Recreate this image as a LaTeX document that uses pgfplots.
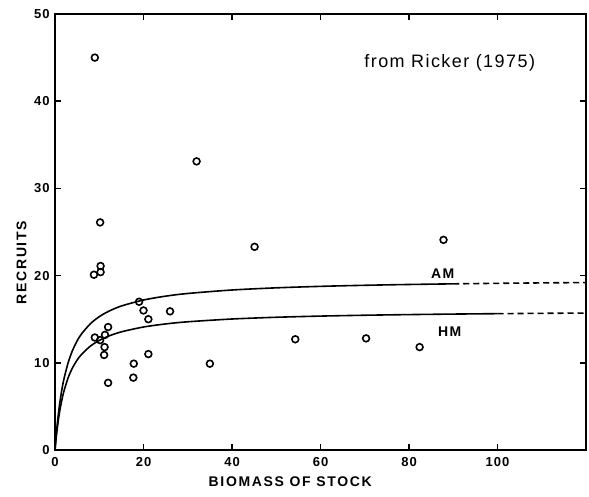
\documentclass[border=0pt]{standalone}
\usepackage{fontspec}
\setmainfont{Liberation Sans}
\usepackage{pgfplots}
\pgfplotsset{compat=1.18}
\begin{document}
\begin{tikzpicture}
\begin{axis}[
  name=ax,
  line width=2.2pt,
  scale only axis,
  width=531pt, height=436pt,
  xmin=0, xmax=120, ymin=0, ymax=50,
  xtick={0,20,40,60,80,100},
  ytick={0,10,20,30,40,50},
  tick align=inside,
  major tick length=6pt,
  major tick style={line width=1.6pt, black},
  /pgf/number format/assume math mode=true,
  ticklabel style={font=\fontsize{13}{15}\selectfont\bfseries\addfontfeature{LetterSpace=8}},
  xticklabel style={yshift=-3pt},
  yticklabel style={xshift=-1pt},
  xlabel={BIOMASS OF STOCK},
  ylabel={RECRUITS},
  label style={font=\fontsize{14}{16}\selectfont\bfseries\addfontfeature{LetterSpace=12}},
  xlabel style={at={(axis description cs:0.443,0)}, anchor=north, yshift=-22pt},
  ylabel style={at={(axis description cs:0,0.43)}, anchor=south, yshift=24pt},
  clip=false,
]
\addplot[only marks, mark=o, mark size=3.4pt, mark options={line width=1.6pt}] coordinates {
  (9,45) (32,33.1) (10.2,26.1) (45.1,23.3) (87.8,24.1)
  (8.8,20.1) (10.3,20.4) (10.3,21.1)
  (19,17) (20,16) (21.1,15) (26,15.9)
  (9,12.9) (10.2,12.6) (11.3,13.2) (12,14.1) (11.2,11.8) (11.1,10.9) (12,7.7)
  (17.8,9.9) (17.7,8.3) (21.1,11) (35,9.9)
  (54.3,12.7) (70.3,12.8) (82.4,11.8)
};
% AM curve (solid part)
\addplot[line width=1.6pt, smooth] coordinates {
  (0,0) (0.25,1.580) (0.5,2.926) (1,5.093) (1.5,6.764) (2,8.091) (3,10.065)
  (4,11.464) (5,12.506) (6,13.314) (8,14.483) (10,15.288) (12,15.876)
  (15,16.512) (20,17.200) (25,17.642) (30,17.949) (40,18.348) (50,18.596)
  (60,18.766) (70,18.888) (80,18.981) (90,19.054)
};
% AM curve (dashed part)
\addplot[line width=1.6pt, dash pattern=on 6pt off 4pt, smooth] coordinates {
  (90,19.054) (100,19.113) (110,19.162) (120,19.202)
};
% HM curve (solid part)
\addplot[line width=1.6pt, smooth] coordinates {
  (0,0) (0.25,1.322) (0.5,2.442) (1,4.240) (1.5,5.619) (2,6.710) (3,8.326)
  (4,9.467) (5,10.315) (6,10.969) (8,11.915) (10,12.565) (12,13.039)
  (15,13.550) (20,14.103) (25,14.457) (30,14.703) (40,15.022) (50,15.221)
  (60,15.356) (70,15.454) (80,15.528) (90,15.587) (100,15.634)
};
% HM curve (dashed part)
\addplot[line width=1.6pt, dash pattern=on 6pt off 4pt, smooth] coordinates {
  (100,15.634) (110,15.672) (120,15.705)
};
\node[font=\fontsize{14}{16}\selectfont\bfseries\addfontfeature{LetterSpace=10}] at (axis cs:87.6,20.2) {AM};
\node[font=\fontsize{14}{16}\selectfont\bfseries\addfontfeature{LetterSpace=10}] at (axis cs:89.2,13.6) {HM};
\node[font=\fontsize{18}{21}\selectfont\addfontfeature{LetterSpace=8}] at (axis cs:89.2,44.4) {from Ricker (1975)};
\end{axis}
\pgfresetboundingbox
\path[use as bounding box] ([xshift=-55pt,yshift=-47pt]ax.south west) rectangle ([xshift=3pt,yshift=14pt]ax.north east);
\end{tikzpicture}
\end{document}
